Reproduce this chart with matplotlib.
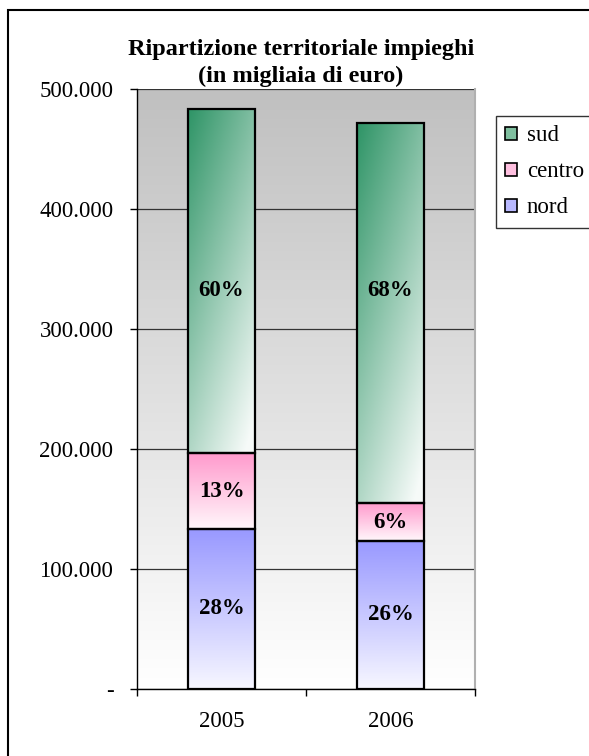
import numpy as np
import matplotlib
matplotlib.use('Agg')
import matplotlib.pyplot as plt
from matplotlib.patches import Patch, Rectangle
from matplotlib.colors import to_rgb

plt.rcParams['font.family'] = ['Liberation Serif', 'DejaVu Serif']

# data (thousands of euro)
years = ['2005', '2006']
nord = [133000, 123000]
centro = [63500, 32000]
sud = [287000, 317000]
nord_pct = ['28%', '26%']
centro_pct = ['13%', '6%']
sud_pct = ['60%', '68%']
# Excel put both "sud" labels at the same height
sud_label_at = [332000, 332000]

series = [
    ('nord', nord, nord_pct, '#9999ff'),
    ('centro', centro, centro_pct, '#ff99cc'),
    ('sud', sud, sud_pct, '#2e9466'),
]
yticks = [0, 100000, 200000, 300000, 400000, 500000]
ytick_labels = ['-', '100.000', '200.000', '300.000', '400.000', '500.000']


def gradient(color, hshade, n=120, m=60):
    c = np.array(to_rgb(color))
    t = np.linspace(0, 1, n)[:, None]
    s = np.linspace(0, 1, m)[None, :]
    if hshade:
        w = np.clip(0.62 * t + 0.4 * s, 0, 0.96)
    else:
        w = np.clip(0.92 * t + 0.0 * s, 0, 1)
    return c[None, None, :] * (1 - w[..., None]) + w[..., None]


fig = plt.figure(figsize=(5.89, 7.56), dpi=100)
ax = fig.add_axes([137 / 589, 1 - 688.7 / 756, (475 - 137) / 589, (688.7 - 89.3) / 756])

# plot area background: grey to white
bg = np.linspace(0.753, 1.0, 200)[:, None] * np.ones((1, 2))
bg = np.dstack([bg, bg, bg])
ax.imshow(bg, extent=[0, 1, 0, 1], transform=ax.transAxes, aspect='auto',
          origin='upper', zorder=0)

x = np.arange(len(years))
bottom = np.zeros(len(years))
for name, vals, pcts, col in series:
    bars = ax.bar(x, vals, 0.4, bottom=bottom, facecolor='none',
                  edgecolor='black', linewidth=1.6, zorder=3)
    for i, (b, p) in enumerate(zip(bars, pcts)):
        x0, y0 = b.get_x(), b.get_y()
        x1, y1 = x0 + b.get_width(), y0 + b.get_height()
        im = ax.imshow(gradient(col, name == 'sud'), extent=[x0, x1, y0, y1],
                       aspect='auto', origin='upper', zorder=2)
        im.set_clip_path(b)
        ty = sud_label_at[i] if name == 'sud' else (y0 + y1) / 2
        ax.text((x0 + x1) / 2, ty, p, ha='center', va='center',
                fontsize=16.5, fontweight='bold', zorder=4)
    bottom = bottom + np.array(vals)

ax.set_xlim(-0.5, 1.5)
ax.set_ylim(0, 500000)
ax.set_yticks(yticks)
ax.set_yticklabels(ytick_labels, fontsize=16.5)
ax.set_xticks([-0.5, 0.5, 1.5])
ax.set_xticklabels([])
ax.set_xticks(x, minor=True)
ax.set_xticklabels(years, minor=True, fontsize=16.5)
ax.tick_params(axis='x', which='minor', length=0, pad=16)
ax.tick_params(axis='x', which='major', length=5, width=1, direction='out')
ax.tick_params(axis='y', length=5, width=1, direction='out', pad=12)
ax.yaxis.grid(True, color='#333333', linewidth=0.9, zorder=1)
ax.set_axisbelow(True)
ax.spines['top'].set_visible(False)
ax.spines['right'].set_color('#b0b0b0')
ax.spines['right'].set_linewidth(1.5)
ax.spines['left'].set_linewidth(1)
ax.spines['bottom'].set_linewidth(1)

fig.text(301 / 589, 1 - 63 / 756, 'Ripartizione territoriale impieghi\n(in migliaia di euro)',
         ha='center', va='center', fontsize=17.5, fontweight='bold', linespacing=1.3)

handles = [
    Patch(facecolor='#7fbf9f', edgecolor='black', linewidth=1.2, label='sud'),
    Patch(facecolor='#ffc0e0', edgecolor='black', linewidth=1.2, label='centro'),
    Patch(facecolor='#b8b8ff', edgecolor='black', linewidth=1.2, label='nord'),
]
leg = fig.legend(handles=handles, loc='upper left',
                 bbox_to_anchor=(496 / 589, 1 - 116 / 756), fontsize=16.5,
                 frameon=True, fancybox=False, handlelength=0.5, handleheight=0.5,
                 handletextpad=0.45, labelspacing=0.66, borderpad=0.4,
                 borderaxespad=0)
leg.get_frame().set_edgecolor('black')
leg.get_frame().set_linewidth(1)

# outer chart frame
fig.patches.append(Rectangle((8 / 589, -0.1), 2, 1 - 10 / 756 + 0.1,
                             transform=fig.transFigure, fill=False,
                             edgecolor='black', linewidth=1.5))

fig.savefig('out.png', dpi=100, facecolor='white')
